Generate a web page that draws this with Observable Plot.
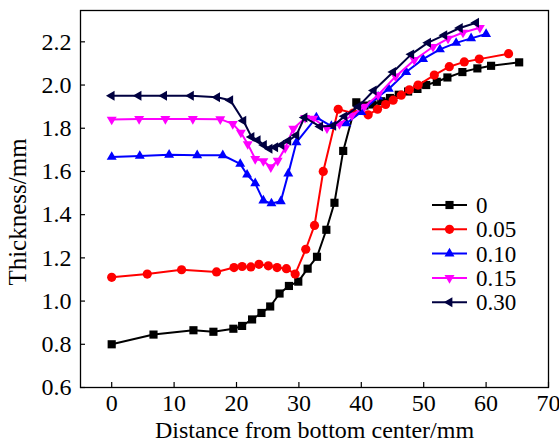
<!DOCTYPE html>
<html>
<head>
<meta charset="utf-8">
<script src="https://cdn.jsdelivr.net/npm/d3@7"></script>
<script src="https://cdn.jsdelivr.net/npm/@observablehq/plot@0.6"></script>
<style>
  html, body { margin: 0; padding: 0; background: #fff; }
  #wrap { position: relative; width: 559px; height: 441px; }
  #wrap svg { display: block; }
  #legend { position: absolute; left: 0; top: 0; pointer-events: none; }
</style>
</head>
<body>
<div id="wrap"></div>
<script>
// ---- data ----
const seriesNames = ["0", "0.05", "0.10", "0.15", "0.30"];
const seriesColors = ["#000000", "#ff0000", "#0000ff", "#ff00ff", "#000040"];

const x_0 = [0, 6.7, 13.1, 16.3, 19.5, 20.9, 22.5, 24.0, 25.4, 26.9, 28.4, 29.9, 31.4, 32.9, 34.4, 35.7, 37.1, 39.2, 40.5, 41.8, 43.2, 44.6, 46.0, 47.5, 49.0, 50.4, 52.1, 53.8, 56.2, 58.6, 60.8, 65.3];
const y_0 = [0.80, 0.845, 0.865, 0.858, 0.872, 0.885, 0.915, 0.945, 0.975, 1.035, 1.07, 1.09, 1.15, 1.205, 1.33, 1.455, 1.695, 1.92, 1.905, 1.91, 1.925, 1.94, 1.955, 1.97, 1.982, 2.0, 2.015, 2.035, 2.06, 2.077, 2.089, 2.105];

const x_005 = [0, 5.7, 11.2, 16.8, 19.6, 20.9, 22.3, 23.6, 25.1, 26.5, 28.0, 29.4, 31.1, 32.5, 33.9, 36.3, 38.7, 41.1, 42.6, 43.9, 45.1, 46.4, 47.7, 49.1, 51.7, 54.1, 56.5, 58.9, 63.6];
const y_005 = [1.11, 1.125, 1.145, 1.135, 1.155, 1.16, 1.158, 1.17, 1.163, 1.155, 1.15, 1.125, 1.24, 1.35, 1.60, 1.888, 1.87, 1.862, 1.888, 1.91, 1.93, 1.953, 1.978, 2.0, 2.046, 2.085, 2.107, 2.12, 2.145];

const x_010 = [0, 4.5, 9.2, 13.7, 17.8, 20.6, 21.7, 23.0, 24.3, 25.6, 27.1, 28.3, 29.6, 32.8, 35.2, 37.6, 40.0, 42.7, 44.4, 47.2, 49.9, 52.6, 55.2, 57.6, 60.0];
const y_010 = [1.667, 1.672, 1.677, 1.675, 1.675, 1.635, 1.585, 1.545, 1.465, 1.452, 1.462, 1.59, 1.735, 1.85, 1.81, 1.823, 1.875, 1.946, 1.982, 2.06, 2.12, 2.165, 2.195, 2.216, 2.236];

const x_015 = [0, 4.4, 8.6, 13.0, 17.4, 19.4, 20.7, 21.8, 23.0, 24.3, 25.5, 26.6, 27.8, 29.1, 31.0, 32.3, 34.5, 36.5, 38.5, 40.5, 42.7, 45.5, 48.5, 51.5, 53.9, 56.3, 59.0];
const y_015 = [1.84, 1.843, 1.843, 1.843, 1.842, 1.82, 1.78, 1.727, 1.658, 1.648, 1.62, 1.65, 1.708, 1.798, 1.848, 1.845, 1.80, 1.82, 1.86, 1.90, 1.954, 2.04, 2.116, 2.177, 2.215, 2.243, 2.265];

const x_030 = [0, 4.3, 8.4, 12.7, 16.9, 19.0, 21.1, 22.4, 23.4, 24.4, 25.3, 26.2, 27.2, 28.3, 29.6, 30.9, 33.4, 35.5, 37.3, 39.5, 42.0, 45.1, 48.0, 50.7, 53.3, 55.8, 58.4];
const y_030 = [1.95, 1.95, 1.95, 1.95, 1.943, 1.93, 1.835, 1.76, 1.745, 1.722, 1.705, 1.712, 1.722, 1.742, 1.768, 1.85, 1.808, 1.812, 1.855, 1.90, 1.975, 2.06, 2.142, 2.196, 2.231, 2.264, 2.288];

const xTicks = [0, 10, 20, 30, 40, 50, 60, 70];
const yTicks = [0.6, 0.8, 1.0, 1.2, 1.4, 1.6, 1.8, 2.0, 2.2];
const xTitle = "Distance from bottom center/mm";
const yTitle = "Thickness/mm";

// ---- symbols ----
function triSym(dir) {
  return {
    draw(ctx, size) {
      const r = Math.sqrt(size / Math.PI) * 1.25;
      const a = r * Math.cos(Math.PI / 6), b = r * 0.5;
      let pts;
      if (dir === "up") pts = [[0, -r], [a, b], [-a, b]];
      else if (dir === "down") pts = [[0, r], [a, -b], [-a, -b]];
      else pts = [[-r, 0], [b, a], [b, -a]]; // left
      ctx.moveTo(pts[0][0], pts[0][1]);
      ctx.lineTo(pts[1][0], pts[1][1]);
      ctx.lineTo(pts[2][0], pts[2][1]);
      ctx.closePath();
    }
  };
}
const seriesSymbols = [d3.symbolSquare, d3.symbolCircle, triSym("up"), triSym("down"), triSym("left")];

const xs = [x_0, x_005, x_010, x_015, x_030];
const ys = [y_0, y_005, y_010, y_015, y_030];
const rows = seriesNames.map((s, i) => xs[i].map((x, j) => ({s, x, y: ys[i][j]})));

const font = "'Liberation Serif', 'Times New Roman', serif";
const R = 4.6;

const marks = [];
rows.forEach((data, i) => {
  marks.push(Plot.line(data, {x: "x", y: "y", stroke: seriesColors[i], strokeWidth: 2}));
  marks.push(Plot.dot(data, {x: "x", y: "y", fill: seriesColors[i], stroke: "none", r: R, symbol: seriesSymbols[i]}));
});

const chart = Plot.plot({
  width: 559,
  height: 441,
  marginLeft: 80,
  marginRight: 11,
  marginTop: 10,
  marginBottom: 54,
  style: {fontFamily: font, fontSize: "24px", background: "#fff", color: "black"},
  x: {domain: [-5, 70]},
  y: {domain: [0.6, 2.345]},
  marks: [
    Plot.axisX({ticks: xTicks, tickSize: 5, dy: -5, tickFormat: () => "", label: null, strokeWidth: 1.2}),
    Plot.axisX({ticks: xTicks, tickSize: 0, tickPadding: 6, fontSize: 24, tickFormat: d => String(d),
                label: xTitle, labelAnchor: "center", labelOffset: 50, labelArrow: "none"}),
    Plot.axisY({ticks: yTicks, tickSize: 5, dx: 5, tickFormat: () => "", label: null, strokeWidth: 1.2}),
    Plot.axisY({ticks: yTicks, tickSize: 0, tickPadding: 9, fontSize: 24, tickFormat: d => d.toFixed(1),
                label: null}),
    ...marks,
    Plot.frame({stroke: "black", strokeWidth: 1.3})
  ]
});

const wrap = document.getElementById("wrap");
wrap.appendChild(chart);

// ---- y axis title (drawn with d3 in the plot's svg, centered a bit below the frame middle) ----
d3.select(chart).append("text")
  .attr("transform", "translate(26,212) rotate(-90)")
  .attr("text-anchor", "middle")
  .attr("font-family", font).attr("font-size", 25)
  .attr("fill", "#000000").attr("stroke", "none")
  .text(yTitle);

// ---- legend (inside plot area) ----
const lg = d3.select(wrap).append("svg")
  .attr("id", "legend").attr("width", 559).attr("height", 441);
const legX0 = 432, legX1 = 467, legTextX = 476, legY0 = 205, legDY = 24.3;
seriesNames.forEach((s, i) => {
  const g = lg.append("g").attr("transform", `translate(0,${legY0 + i * legDY})`);
  g.append("line").attr("x1", legX0).attr("x2", legX1).attr("y1", 0).attr("y2", 0)
    .attr("stroke", seriesColors[i]).attr("stroke-width", 2);
  g.append("path").attr("transform", `translate(${(legX0 + legX1) / 2},0)`)
    .attr("d", d3.symbol().type(seriesSymbols[i]).size(Math.PI * R * R)())
    .attr("fill", seriesColors[i]);
  g.append("text").attr("x", legTextX).attr("y", 0).attr("dy", "0.35em")
    .attr("font-family", font).attr("font-size", 23).attr("fill", "black").text(s);
});
</script>
</body>
</html>
